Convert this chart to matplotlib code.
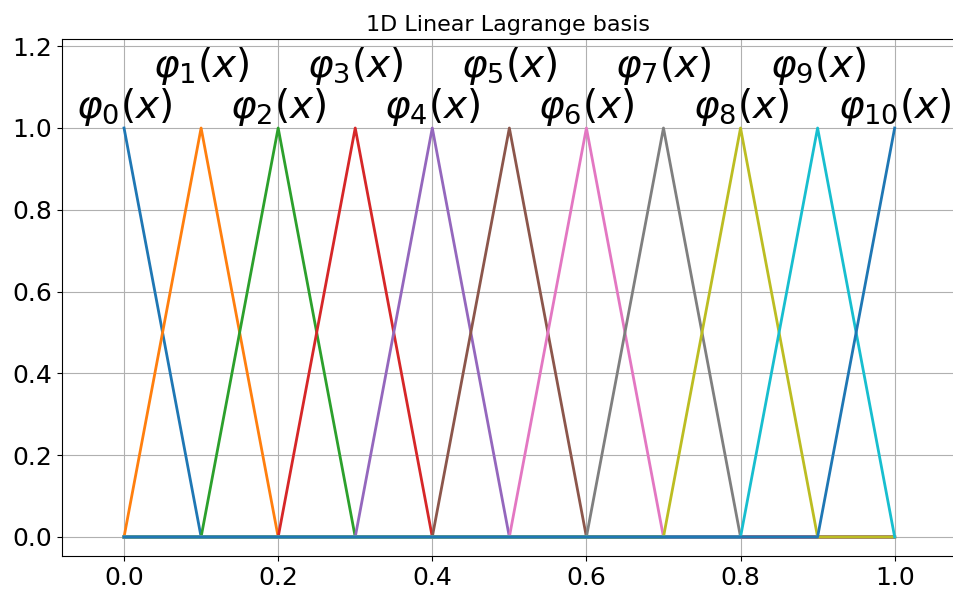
import numpy as np
import matplotlib
matplotlib.use("Agg")
import matplotlib.pyplot as plt

# mesh nodes and hat-function peak values
nodes = [0.0, 0.1, 0.2, 0.3, 0.4, 0.5, 0.6, 0.7, 0.8, 0.9, 1.0]
peak = [1.0] * len(nodes)
lab_y = [1.0, 1.1, 1.0, 1.1, 1.0, 1.1, 1.0, 1.1, 1.0, 1.1, 1.0]


def hat(i):
    y = np.zeros(len(nodes))
    y[i] = peak[i]
    return y


fig = plt.figure(figsize=(9.54, 5.93), dpi=100)
ax = fig.add_axes([62 / 954, 37 / 593, 892 / 954, 517 / 593])

for i in range(len(nodes)):
    ax.plot(nodes, hat(i), linewidth=2)
    ax.text(nodes[i], lab_y[i], r"$\varphi_{%d}(x)$" % i, fontsize=28,
            ha="center", va="bottom")

ax.set_xlim(-0.0805, 1.077)
ax.set_ylim(-0.0465, 1.2176)
ax.set_xticks([0.0, 0.2, 0.4, 0.6, 0.8, 1.0])
ax.set_yticks([0.0, 0.2, 0.4, 0.6, 0.8, 1.0, 1.2])
ax.tick_params(labelsize=18)
ax.grid(True)
ax.spines["right"].set_visible(False)
ax.set_title("1D Linear Lagrange basis", fontsize=16)

fig.savefig("out.png", dpi=100)
